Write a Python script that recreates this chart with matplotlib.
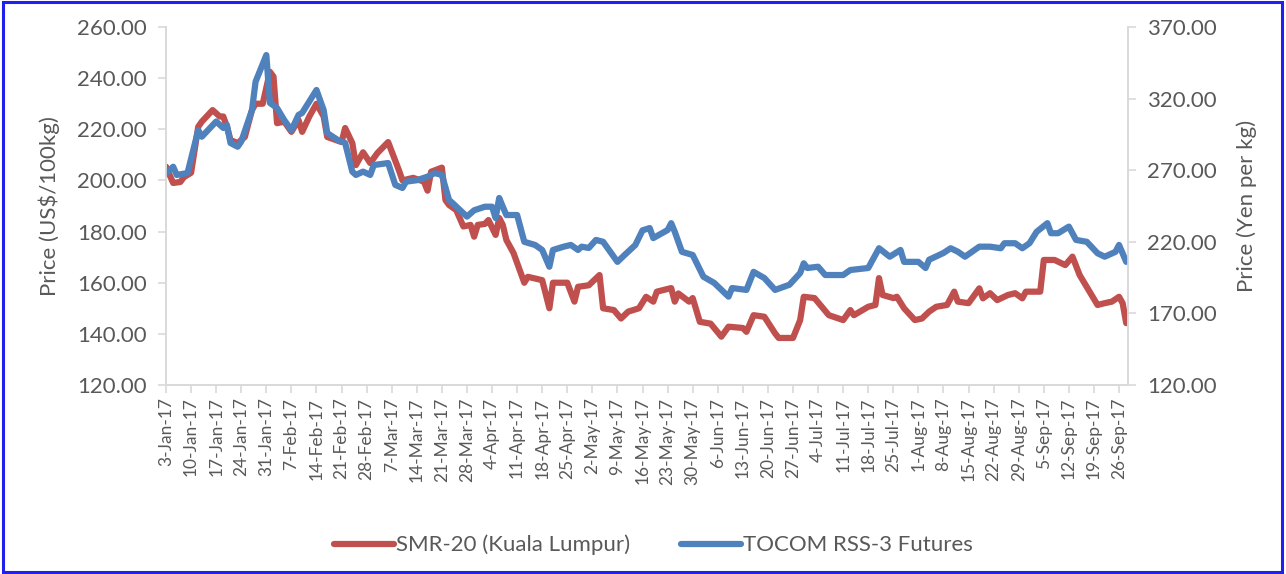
import matplotlib
matplotlib.use("Agg")
import matplotlib.pyplot as plt
from matplotlib.patches import Rectangle
import pandas as pd

# ---- data ----
smr_dates = ["2017-01-03","2017-01-05","2017-01-07","2017-01-08","2017-01-10","2017-01-12","2017-01-13",
 "2017-01-16","2017-01-18","2017-01-19","2017-01-20","2017-01-21","2017-01-23","2017-01-25","2017-01-27",
 "2017-01-28","2017-01-30","2017-02-01","2017-02-02","2017-02-03","2017-02-05","2017-02-07","2017-02-09",
 "2017-02-10","2017-02-12","2017-02-14","2017-02-16","2017-02-17","2017-02-21","2017-02-22","2017-02-24",
 "2017-02-25","2017-02-27","2017-03-01","2017-03-03","2017-03-06","2017-03-09","2017-03-10","2017-03-13",
 "2017-03-16","2017-03-17","2017-03-18","2017-03-21","2017-03-22","2017-03-23","2017-03-25","2017-03-27",
 "2017-03-29","2017-03-30","2017-03-31","2017-04-02","2017-04-03","2017-04-05","2017-04-06","2017-04-07",
 "2017-04-08","2017-04-10","2017-04-11","2017-04-13","2017-04-14","2017-04-18","2017-04-20","2017-04-21",
 "2017-04-25","2017-04-27","2017-04-28","2017-05-01","2017-05-04","2017-05-05","2017-05-08","2017-05-10",
 "2017-05-12","2017-05-15","2017-05-17","2017-05-19","2017-05-20","2017-05-24","2017-05-25","2017-05-26",
 "2017-05-29","2017-05-30","2017-06-01","2017-06-04","2017-06-07","2017-06-09","2017-06-13","2017-06-14",
 "2017-06-16","2017-06-19","2017-06-22","2017-06-23","2017-06-27","2017-06-29","2017-06-30","2017-07-03",
 "2017-07-07","2017-07-11","2017-07-13","2017-07-14","2017-07-18","2017-07-20","2017-07-21","2017-07-22",
 "2017-07-25","2017-07-26","2017-07-28","2017-07-31","2017-08-02","2017-08-04","2017-08-06","2017-08-09",
 "2017-08-11","2017-08-12","2017-08-15","2017-08-18","2017-08-19","2017-08-21","2017-08-23","2017-08-26",
 "2017-08-28","2017-08-30","2017-08-31","2017-09-04","2017-09-05","2017-09-08","2017-09-11","2017-09-13",
 "2017-09-15","2017-09-20","2017-09-22","2017-09-24","2017-09-26","2017-09-27","2017-09-28"]
smr_values = [205.4,199.0,199.4,201.3,203.0,221.0,223.0,
 227.5,225.0,225.0,221.0,215.8,214.6,217.0,227.5,
 230.0,230.0,242.5,240.6,222.4,223.0,219.0,223.6,
 219.0,225.0,230.0,225.0,217.0,215.0,220.5,214.6,
 206.0,211.0,206.8,210.7,215.0,204.0,200.0,201.0,
 199.5,196.0,203.4,205.0,192.3,190.4,188.4,182.0,
 182.6,178.0,182.6,183.0,184.5,178.7,185.3,182.6,
 176.7,171.6,167.7,160.0,162.3,161.0,150.0,160.0,
 160.0,152.6,158.4,159.0,163.0,150.0,149.3,146.0,
 148.7,150.0,154.5,152.6,156.5,157.9,152.6,155.8,
 152.6,154.0,144.7,144.0,138.9,142.8,142.3,140.8,
 147.3,146.7,140.2,138.4,138.4,145.4,154.5,154.0,
 147.3,145.4,149.3,147.3,150.6,151.3,161.8,155.2,
 154.0,154.5,150.0,145.4,146.0,148.7,150.6,151.3,
 156.5,152.6,152.0,157.8,153.9,155.9,153.2,155.2,
 155.9,153.9,156.5,156.5,168.9,168.9,166.9,170.2,
 163.0,151.3,152.0,152.6,154.5,152.0,144.2]

tocom_dates = ["2017-01-03","2017-01-05","2017-01-06","2017-01-09","2017-01-12","2017-01-13","2017-01-17",
 "2017-01-19","2017-01-20","2017-01-21","2017-01-23","2017-01-24","2017-01-27","2017-01-28","2017-01-31",
 "2017-02-01","2017-02-03","2017-02-05","2017-02-07","2017-02-09","2017-02-10","2017-02-14","2017-02-16",
 "2017-02-17","2017-02-20","2017-02-22","2017-02-24","2017-02-25","2017-02-27","2017-03-01","2017-03-02",
 "2017-03-06","2017-03-08","2017-03-10","2017-03-11","2017-03-14","2017-03-17","2017-03-19","2017-03-21",
 "2017-03-23","2017-03-24","2017-03-28","2017-03-30","2017-04-02","2017-04-04","2017-04-05","2017-04-06",
 "2017-04-07","2017-04-08","2017-04-11","2017-04-13","2017-04-16","2017-04-18","2017-04-20","2017-04-21",
 "2017-04-24","2017-04-26","2017-04-28","2017-04-29","2017-05-01","2017-05-03","2017-05-05","2017-05-09",
 "2017-05-11","2017-05-14","2017-05-16","2017-05-18","2017-05-19","2017-05-23","2017-05-24","2017-05-25",
 "2017-05-27","2017-05-30","2017-06-02","2017-06-05","2017-06-09","2017-06-10","2017-06-14","2017-06-16",
 "2017-06-19","2017-06-22","2017-06-26","2017-06-29","2017-06-30","2017-07-01","2017-07-04","2017-07-06",
 "2017-07-11","2017-07-13","2017-07-18","2017-07-21","2017-07-24","2017-07-27","2017-07-28","2017-08-01",
 "2017-08-03","2017-08-04","2017-08-08","2017-08-10","2017-08-12","2017-08-14","2017-08-18","2017-08-21",
 "2017-08-24","2017-08-25","2017-08-28","2017-08-30","2017-09-01","2017-09-03","2017-09-06","2017-09-07",
 "2017-09-09","2017-09-12","2017-09-14","2017-09-17","2017-09-20","2017-09-22","2017-09-25","2017-09-26",
 "2017-09-28"]
tocom_values = [267.8,272.4,266.7,268.0,298.0,293.4,304.0,
 299.5,301.6,289.0,286.4,290.0,312.0,331.8,350.4,
 317.0,313.4,305.0,298.0,308.6,310.0,326.0,312.0,
 296.0,291.0,289.0,269.0,266.7,269.0,266.7,273.6,
 275.0,259.7,257.6,262.0,263.0,265.5,268.0,266.7,
 249.2,247.0,237.6,242.0,244.5,244.5,236.6,250.6,
 244.5,238.7,238.7,220.0,217.8,214.3,202.6,214.3,
 216.6,217.8,214.3,216.6,215.7,221.3,220.0,206.0,
 210.8,217.8,228.0,229.6,222.6,228.2,233.0,227.0,
 213.0,210.8,195.6,191.3,181.7,187.7,186.4,199.0,
 194.7,186.4,190.0,198.2,205.0,201.7,202.6,196.8,
 196.8,200.3,201.7,215.5,209.6,214.3,206.0,206.0,
 201.7,207.5,212.2,215.5,213.1,209.6,216.6,216.6,
 215.5,219.0,219.0,215.5,219.0,227.0,233.0,226.0,
 226.0,230.6,221.3,220.0,212.0,209.6,213.0,217.8,
 206.0]

series_names = ["SMR-20 (Kuala Lumpur)", "TOCOM RSS-3 Futures"]
left_ticks = [120, 140, 160, 180, 200, 220, 240, 260]
right_ticks = [120, 170, 220, 270, 320, 370]
tick_start, tick_end = "2017-01-03", "2017-09-26"
x_start, x_end = "2017-01-03", "2017-09-28 12:00"
left_label = "Price (US$/100kg)"
right_label = "Price (Yen per kg)"

# ---- style ----
RED = "#C0504D"
BLUE = "#4F81BD"
TXT = "#595959"
SPINE = "#D9D9D9"
FONT = "Lato"
plt.rcParams["font.family"] = [FONT, "DejaVu Sans"]

fig = plt.figure(figsize=(12.86, 5.74), dpi=100)
ax = fig.add_axes([166/1286, 1-385/574, (1128-166)/1286, (385-27)/574])
ax2 = ax.twinx()

smr_x = pd.to_datetime(smr_dates)
toc_x = pd.to_datetime(tocom_dates)
l1, = ax.plot(smr_x, smr_values, color=RED, lw=4.5, solid_joinstyle="round", solid_capstyle="round")
l2, = ax2.plot(toc_x, tocom_values, color=BLUE, lw=4.5, solid_joinstyle="round", solid_capstyle="round")

ax.set_ylim(left_ticks[0], left_ticks[-1])
ax.set_yticks(left_ticks)
ax.set_yticklabels([f"{v:.2f}" for v in left_ticks])
ax2.set_ylim(right_ticks[0], right_ticks[-1])
ax2.set_yticks(right_ticks)
ax2.set_yticklabels([f"{v:.2f}" for v in right_ticks])

ax.set_xlim(pd.Timestamp(x_start), pd.Timestamp(x_end))
tick_dates = pd.date_range(tick_start, tick_end, freq="7D")
ax.set_xticks(tick_dates)
ax.set_xticklabels([f"{d.day}-{d:%b}-{d:%y}" for d in tick_dates], rotation=90)

for a in (ax, ax2):
    for s in a.spines.values():
        s.set_color(SPINE)
        s.set_linewidth(1.2)
    a.spines["top"].set_visible(False)
    a.tick_params(colors=SPINE, labelcolor=TXT, length=6, width=1.2)
ax.tick_params(axis="y", labelsize=16, pad=8)
ax2.tick_params(axis="y", labelsize=16, pad=8)
ax.tick_params(axis="x", labelsize=12.5, pad=3)

ax.set_ylabel(left_label, fontsize=16, color=TXT, labelpad=12)
ax2.set_ylabel(right_label, fontsize=16, color=TXT, labelpad=14)

fig.legend([l1, l2], series_names, loc="center", bbox_to_anchor=(0.508, 1-545/574),
           ncol=2, frameon=False, fontsize=16, labelcolor=TXT, handlelength=2.7,
           handletextpad=0.1, columnspacing=2.3)

fig.patches.append(Rectangle((0.002, 0.004), 0.995, 0.992, transform=fig.transFigure,
                             fill=False, edgecolor="#1F1FF0", lw=2.2))

fig.savefig("out.png", dpi=100)
